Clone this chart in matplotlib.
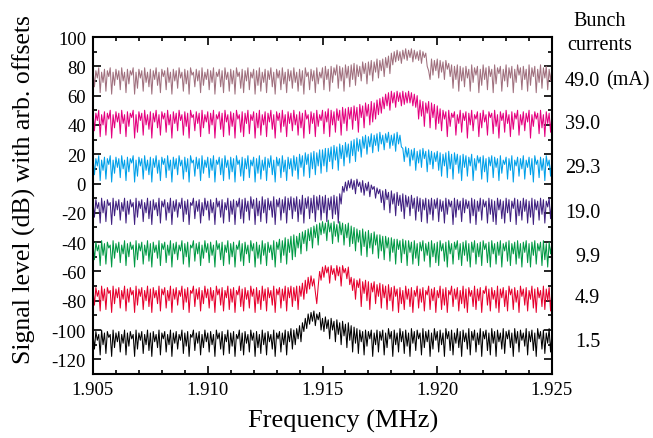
import numpy as np
import matplotlib
matplotlib.use('Agg')
import matplotlib.pyplot as plt
from matplotlib.ticker import MultipleLocator, FormatStrFormatter

# Spectrum analyzer sweep: 321 points from 1.905 to 1.925 MHz
f_start, f_stop, n_points = 1.905, 1.925, 321

# Traces (dB, arbitrary offsets already applied),
# 20 samples per row = 0.00125 MHz per row
trace_1_5 = [
    -102, -113, -101, -107, -103, -117, -100, -110, -102, -116, -101, -105, -103, -118, -100, -112, -102, -108, -101, -115,
    -103, -109, -100, -117, -102, -111, -101, -106, -103, -118, -100, -113, -102, -107, -101, -116, -103, -110, -100, -114,
    -102, -118, -101, -108, -103, -112, -100, -117, -102, -106, -101, -115, -103, -110, -100, -118, -102, -109, -101, -113,
    -103, -107, -100, -116, -102, -111, -101, -118, -103, -105, -100, -114, -102, -109, -101, -117, -103, -112, -100, -108,
    -102, -115, -101, -110, -103, -118, -100, -106, -102, -113, -101, -117, -103, -108, -100, -116, -102, -111, -101, -118,
    -103, -106, -100, -114, -102, -117, -101, -109, -103, -115, -100, -107, -102, -118, -101, -112, -103, -116, -100, -110,
    -102, -117, -101, -108, -103, -113, -100, -118, -102, -106, -101, -115, -102, -110, -100, -117, -101, -108, -99, -113,
    -100, -110, -99, -106, -97, -108, -95, -101, -92, -99, -89, -96, -88, -94, -87, -97, -89, -93, -88, -100,
    -92, -101, -91, -99, -93, -106, -92, -100, -94, -108, -93, -103, -95, -110, -94, -104, -96, -112, -95, -107,
    -97, -115, -98, -109, -99, -116, -100, -108, -101, -117, -100, -111, -101, -106, -100, -118, -102, -110, -100, -115,
    -101, -107, -100, -117, -102, -112, -99, -106, -101, -118, -100, -110, -102, -115, -99, -108, -101, -116, -100, -111,
    -102, -118, -99, -109, -101, -114, -100, -106, -102, -117, -99, -112, -101, -108, -100, -118, -102, -113, -99, -107,
    -101, -115, -100, -110, -102, -118, -99, -106, -101, -114, -100, -117, -102, -109, -99, -112, -101, -118, -100, -108,
    -102, -113, -99, -117, -101, -107, -100, -115, -102, -110, -99, -118, -101, -106, -100, -114, -102, -117, -99, -109,
    -101, -118, -100, -108, -102, -113, -99, -116, -101, -106, -100, -112, -102, -118, -99, -109, -101, -115, -100, -107,
    -102, -111, -99, -117, -101, -108, -100, -114, -102, -118, -99, -106, -101, -113, -100, -116, -102, -109, -99, -115,
    -101]

trace_4_9 = [
    -72, -83, -71, -77, -73, -87, -70, -80, -72, -86, -71, -75, -73, -88, -70, -82, -72, -78, -71, -85,
    -73, -79, -70, -87, -72, -81, -71, -76, -73, -88, -70, -83, -72, -77, -71, -86, -73, -80, -70, -84,
    -72, -88, -71, -78, -73, -82, -70, -87, -72, -76, -71, -85, -73, -80, -70, -88, -72, -79, -71, -83,
    -73, -77, -70, -86, -72, -81, -71, -88, -73, -75, -70, -84, -72, -79, -71, -87, -73, -82, -70, -78,
    -72, -85, -71, -80, -73, -88, -70, -76, -72, -83, -71, -87, -73, -78, -70, -86, -72, -81, -71, -88,
    -73, -76, -70, -84, -72, -87, -71, -79, -73, -85, -70, -77, -72, -88, -71, -82, -73, -86, -70, -80,
    -72, -87, -71, -78, -73, -83, -70, -88, -72, -76, -71, -85, -72, -80, -70, -87, -71, -78, -70, -84,
    -71, -80, -70, -86, -70, -77, -68, -79, -66, -75, -64, -72, -63, -70, -65, -74, -82, -70, -60, -66,
    -57, -64, -56, -61, -57, -68, -56, -62, -58, -66, -56, -63, -57, -70, -56, -61, -58, -65, -57, -69,
    -64, -73, -65, -79, -66, -71, -65, -84, -67, -75, -66, -80, -67, -86, -68, -74, -67, -82, -69, -77,
    -68, -85, -69, -78, -70, -86, -69, -80, -71, -87, -70, -77, -72, -88, -71, -82, -73, -86, -70, -79,
    -72, -84, -71, -88, -73, -77, -70, -85, -72, -81, -71, -87, -73, -76, -70, -86, -72, -80, -71, -88,
    -73, -78, -70, -86, -72, -83, -71, -88, -73, -76, -70, -84, -72, -79, -71, -87, -73, -82, -70, -85,
    -72, -88, -71, -77, -73, -84, -70, -86, -72, -80, -71, -88, -73, -75, -70, -83, -72, -87, -71, -79,
    -73, -85, -70, -88, -72, -78, -71, -84, -73, -87, -70, -76, -72, -86, -71, -81, -73, -88, -70, -77,
    -72, -83, -71, -87, -73, -79, -70, -85, -72, -88, -71, -78, -73, -84, -70, -86, -72, -80, -71, -87,
    -72]

trace_9_9 = [
    -41, -52, -40, -46, -42, -56, -39, -49, -41, -55, -40, -44, -42, -57, -39, -51, -41, -47, -40, -54,
    -42, -48, -39, -56, -41, -50, -40, -45, -42, -57, -39, -52, -41, -46, -40, -55, -42, -49, -39, -53,
    -41, -57, -40, -47, -42, -51, -39, -56, -41, -45, -40, -54, -42, -49, -39, -57, -41, -48, -40, -52,
    -42, -46, -39, -55, -41, -50, -40, -57, -42, -44, -39, -53, -41, -48, -40, -56, -42, -51, -39, -47,
    -41, -54, -40, -49, -42, -57, -39, -45, -41, -52, -40, -56, -42, -47, -39, -55, -41, -50, -40, -57,
    -42, -45, -39, -53, -41, -56, -40, -48, -42, -54, -39, -46, -41, -57, -40, -51, -42, -55, -39, -49,
    -41, -56, -40, -47, -42, -52, -39, -57, -40, -45, -38, -54, -39, -49, -37, -55, -38, -47, -36, -52,
    -35, -50, -36, -44, -34, -48, -33, -41, -32, -46, -31, -39, -30, -44, -29, -37, -28, -42, -27, -35,
    -26, -34, -27, -39, -25, -33, -27, -41, -26, -36, -28, -40, -26, -35, -27, -42, -28, -37, -27, -43,
    -29, -41, -30, -46, -31, -40, -32, -49, -31, -43, -33, -50, -32, -44, -34, -48, -33, -42, -35, -51,
    -35, -46, -36, -52, -36, -44, -37, -53, -37, -47, -38, -55, -38, -45, -39, -54, -38, -48, -39, -56,
    -39, -47, -40, -55, -39, -51, -41, -56, -40, -46, -39, -53, -41, -49, -40, -57, -39, -50, -41, -54,
    -40, -56, -39, -46, -41, -53, -40, -57, -39, -48, -41, -55, -40, -45, -39, -52, -41, -56, -40, -49,
    -39, -53, -41, -57, -40, -47, -39, -55, -41, -50, -40, -56, -39, -45, -41, -54, -40, -57, -39, -48,
    -41, -55, -40, -49, -39, -57, -41, -46, -40, -53, -39, -56, -41, -48, -40, -55, -39, -51, -41, -57,
    -40, -47, -39, -54, -41, -57, -40, -49, -39, -55, -41, -46, -40, -56, -39, -52, -41, -57, -40, -48,
    -40]

trace_19_0 = [
    -12, -23, -11, -17, -13, -27, -10, -20, -12, -26, -11, -15, -13, -28, -10, -22, -12, -18, -11, -25,
    -13, -19, -10, -27, -12, -21, -11, -16, -13, -28, -10, -23, -12, -17, -11, -26, -13, -20, -10, -24,
    -12, -28, -11, -18, -13, -22, -10, -27, -12, -16, -11, -25, -13, -20, -10, -28, -12, -19, -11, -23,
    -13, -17, -10, -26, -12, -21, -11, -28, -13, -15, -10, -24, -12, -19, -11, -27, -13, -22, -10, -18,
    -12, -25, -11, -20, -13, -28, -10, -16, -12, -23, -11, -27, -13, -18, -10, -26, -12, -21, -11, -28,
    -12, -16, -10, -24, -11, -27, -10, -19, -12, -25, -9, -17, -11, -28, -10, -22, -12, -26, -9, -20,
    -11, -27, -10, -18, -12, -23, -9, -28, -11, -16, -10, -25, -11, -20, -9, -27, -10, -18, -9, -24,
    -10, -19, -9, -26, -11, -21, -8, -27, -10, -17, -9, -24, -10, -20, -8, -26, -9, -18, -8, -25,
    -9, -20, -8, -26, -10, -18, -9, -24, -8, -21, -9, -27, -7, -14, -2, -6, 1, -5, 2, -3,
    3, -4, 2, -7, 3, -2, 1, -6, 2, -8, 0, -5, 1, -9, -1, -4, -2, -10, -3, -7,
    -4, -13, -5, -18, -4, -11, -6, -20, -5, -14, -7, -22, -6, -15, -8, -19, -7, -24, -8, -16,
    -9, -22, -8, -17, -10, -25, -9, -19, -10, -26, -11, -18, -10, -27, -11, -21, -10, -25, -11, -17,
    -10, -26, -11, -19, -12, -27, -10, -21, -11, -16, -12, -28, -10, -23, -11, -18, -12, -26, -10, -20,
    -11, -17, -12, -27, -10, -22, -11, -28, -12, -19, -10, -25, -11, -16, -12, -27, -10, -21, -11, -26,
    -12, -28, -10, -18, -11, -24, -12, -27, -10, -20, -11, -26, -12, -17, -10, -28, -11, -22, -12, -25,
    -10, -19, -11, -27, -12, -23, -10, -28, -11, -18, -12, -25, -10, -21, -11, -27, -12, -16, -10, -24,
    -11]

trace_29_3 = [
    18, 6, 17, 12, 19, 2, 16, 9, 18, 3, 17, 13, 19, 1, 16, 7, 18, 11, 17, 4,
    19, 10, 16, 2, 18, 8, 17, 14, 19, 1, 16, 5, 18, 12, 17, 3, 19, 9, 16, 6,
    18, 1, 17, 11, 19, 7, 16, 2, 18, 13, 17, 4, 19, 9, 16, 1, 18, 10, 17, 6,
    19, 12, 16, 3, 18, 8, 17, 1, 19, 14, 16, 5, 18, 10, 17, 2, 19, 7, 16, 11,
    18, 4, 17, 9, 19, 1, 16, 13, 18, 6, 17, 2, 19, 11, 16, 3, 18, 8, 17, 1,
    19, 13, 16, 5, 18, 2, 17, 10, 19, 4, 16, 12, 18, 1, 17, 7, 19, 3, 16, 9,
    18, 2, 17, 11, 19, 6, 16, 1, 18, 12, 17, 4, 19, 8, 16, 2, 18, 10, 17, 5,
    19, 9, 18, 3, 20, 11, 19, 5, 21, 13, 20, 4, 21, 10, 22, 6, 21, 12, 23, 7,
    23, 12, 24, 8, 24, 15, 25, 10, 26, 16, 25, 9, 27, 17, 26, 12, 28, 18, 27, 14,
    29, 19, 30, 15, 31, 22, 30, 18, 32, 24, 33, 20, 32, 25, 34, 21, 33, 26, 34, 22,
    35, 27, 33, 23, 34, 28, 35, 24, 33, 26, 34, 22, 35, 27, 33, 25, 24, 15, 25, 18,
    24, 12, 23, 16, 24, 9, 22, 14, 23, 11, 24, 17, 22, 8, 23, 13, 22, 10, 21, 15,
    22, 9, 21, 5, 20, 12, 21, 4, 22, 10, 20, 3, 21, 13, 20, 7, 19, 2, 20, 11,
    19, 5, 18, 12, 20, 2, 17, 9, 19, 14, 18, 3, 19, 8, 17, 1, 18, 12, 19, 4,
    18, 11, 17, 2, 19, 7, 16, 13, 18, 3, 17, 9, 19, 1, 16, 12, 18, 5, 17, 10,
    19, 3, 16, 11, 18, 6, 17, 1, 19, 13, 16, 4, 18, 9, 17, 2, 19, 12, 16, 5,
    18]

trace_39_0 = [
    49, 36, 48, 43, 50, 32, 47, 40, 49, 33, 48, 44, 50, 31, 47, 38, 49, 42, 48, 34,
    50, 41, 47, 32, 49, 39, 48, 45, 50, 31, 47, 35, 49, 43, 48, 33, 50, 40, 47, 37,
    49, 31, 48, 42, 50, 38, 47, 33, 49, 44, 48, 35, 50, 40, 47, 31, 49, 41, 48, 36,
    50, 43, 47, 33, 49, 39, 48, 31, 50, 45, 47, 36, 49, 41, 48, 32, 50, 38, 47, 42,
    49, 34, 48, 40, 50, 31, 47, 44, 49, 37, 48, 32, 50, 42, 47, 33, 49, 39, 48, 31,
    50, 44, 47, 35, 49, 32, 48, 41, 50, 34, 47, 43, 49, 31, 48, 38, 50, 33, 47, 40,
    49, 32, 48, 42, 50, 37, 47, 31, 49, 43, 48, 35, 50, 39, 47, 32, 49, 41, 48, 36,
    50, 40, 47, 33, 49, 38, 48, 31, 50, 44, 47, 34, 49, 41, 48, 32, 50, 39, 47, 43,
    50, 34, 49, 42, 51, 32, 50, 40, 49, 35, 51, 43, 50, 33, 52, 41, 51, 36, 52, 44,
    52, 37, 53, 43, 52, 35, 54, 45, 53, 38, 55, 46, 54, 40, 56, 42, 55, 44, 57, 47,
    58, 48, 59, 51, 61, 53, 62, 50, 63, 55, 62, 52, 63, 56, 62, 53, 63, 54, 62, 55,
    63, 55, 62, 53, 61, 52, 60, 44, 57, 46, 56, 39, 55, 48, 56, 38, 55, 45, 54, 37,
    53, 41, 51, 36, 50, 44, 49, 32, 50, 39, 48, 45, 49, 33, 47, 41, 50, 35, 48, 43,
    49, 31, 48, 40, 50, 36, 47, 44, 49, 32, 48, 38, 50, 42, 47, 33, 49, 45, 48, 34,
    50, 39, 47, 31, 49, 43, 48, 35, 50, 41, 47, 32, 49, 37, 48, 44, 50, 33, 47, 40,
    49, 36, 48, 42, 50, 31, 47, 39, 49, 44, 48, 34, 50, 38, 47, 32, 49, 41, 48, 35,
    49]

trace_49_0 = [
    78, 66, 77, 72, 79, 62, 76, 69, 78, 63, 77, 73, 79, 61, 76, 67, 78, 71, 77, 64,
    79, 70, 76, 62, 78, 68, 77, 74, 79, 61, 76, 65, 78, 72, 77, 63, 79, 69, 76, 66,
    78, 61, 77, 71, 79, 67, 76, 62, 78, 73, 77, 64, 79, 69, 76, 61, 78, 70, 77, 65,
    79, 72, 76, 63, 78, 68, 77, 61, 79, 74, 76, 66, 78, 70, 77, 62, 79, 67, 76, 71,
    78, 64, 77, 69, 79, 61, 76, 73, 78, 66, 77, 62, 79, 71, 76, 63, 78, 68, 77, 61,
    79, 73, 76, 65, 78, 62, 77, 70, 79, 64, 76, 72, 78, 61, 77, 67, 79, 63, 76, 69,
    78, 62, 77, 71, 79, 66, 76, 61, 78, 72, 77, 64, 79, 68, 76, 62, 78, 70, 77, 65,
    79, 69, 76, 63, 78, 67, 77, 61, 79, 73, 76, 64, 78, 70, 77, 62, 79, 68, 76, 72,
    79, 64, 80, 71, 78, 63, 80, 69, 79, 74, 81, 65, 80, 70, 79, 63, 81, 72, 80, 66,
    81, 71, 82, 67, 81, 73, 80, 70, 83, 75, 82, 68, 83, 74, 84, 70, 83, 76, 85, 72,
    84, 77, 85, 73, 86, 79, 87, 75, 89, 81, 90, 83, 91, 84, 90, 82, 91, 85, 92, 84,
    91, 86, 92, 83, 91, 85, 90, 84, 91, 82, 90, 86, 89, 80, 77, 71, 85, 74, 84, 77,
    85, 72, 84, 76, 83, 71, 84, 78, 82, 73, 81, 65, 80, 71, 81, 63, 80, 70, 79, 66,
    80, 72, 78, 63, 81, 69, 79, 74, 80, 62, 78, 67, 81, 71, 79, 64, 80, 73, 78, 62,
    81, 68, 79, 75, 80, 63, 78, 70, 81, 66, 79, 72, 80, 62, 78, 69, 81, 74, 79, 64,
    80, 71, 78, 63, 81, 67, 79, 73, 80, 62, 78, 69, 81, 65, 79, 72, 80, 64, 78, 70,
    80]

currents = ['1.5', '4.9', '9.9', '19.0', '29.3', '39.0', '49.0']
traces = [trace_1_5, trace_4_9, trace_9_9, trace_19_0,
          trace_29_3, trace_39_0, trace_49_0]
colors = ['#000000', '#e6002d', '#009944', '#3f1f80',
          '#00a0e9', '#e4007f', '#a0707e']
# vertical spot (data units) of each current label on the right
label_pos = [-108, -78, -49.5, -19.5, 11, 41, 70.5]

plt.rcParams['font.family'] = ['Liberation Serif', 'DejaVu Serif']
plt.rcParams['axes.unicode_minus'] = False

fig = plt.figure(figsize=(6.53, 4.39), dpi=100)
ax = fig.add_axes([93 / 653, 64 / 439, 459 / 653, 337 / 439])

freq = np.linspace(f_start, f_stop, n_points)
for trace, color in zip(traces, colors):
    ax.plot(freq, trace, '-', color=color, linewidth=0.75)

ax.set_xlim(1.905, 1.925)
ax.set_ylim(-130, 100)
ax.xaxis.set_major_locator(MultipleLocator(0.005))
ax.xaxis.set_minor_locator(MultipleLocator(0.001))
ax.xaxis.set_major_formatter(FormatStrFormatter('%.3f'))
ax.yaxis.set_major_locator(MultipleLocator(20))
ax.yaxis.set_minor_locator(MultipleLocator(10))
ax.tick_params(which='both', direction='in', top=True, right=True,
               labelsize=13.5, width=1.2)
ax.tick_params(which='major', length=6, pad=5)
ax.tick_params(which='minor', length=3)
for spine in ax.spines.values():
    spine.set_linewidth(1.5)

# the original labels sit a bit off-centre
ax.set_xlabel('Frequency (MHz)', fontsize=19)
ax.xaxis.set_label_coords(0.546, -0.105)
ax.set_ylabel('Signal level (dB) with arb. offsets', fontsize=18.5)
ax.yaxis.set_label_coords(-0.125, 0.549)

# right-hand current labels
trans = ax.get_yaxis_transform()
for name, y in zip(currents, label_pos):
    ax.text(1.105, y, name, transform=trans, ha='right', va='center',
            fontsize=14.5)
ax.text(1.118, label_pos[-1], '(mA)', transform=trans, ha='left',
        va='center', fontsize=14.5)
fig.text(600 / 653, 1 - 22 / 439, 'Bunch', ha='center', va='center',
         fontsize=14.5)
fig.text(600 / 653, 1 - 46 / 439, 'currents', ha='center', va='center',
         fontsize=14.5)

fig.savefig('out.png', dpi=100)
